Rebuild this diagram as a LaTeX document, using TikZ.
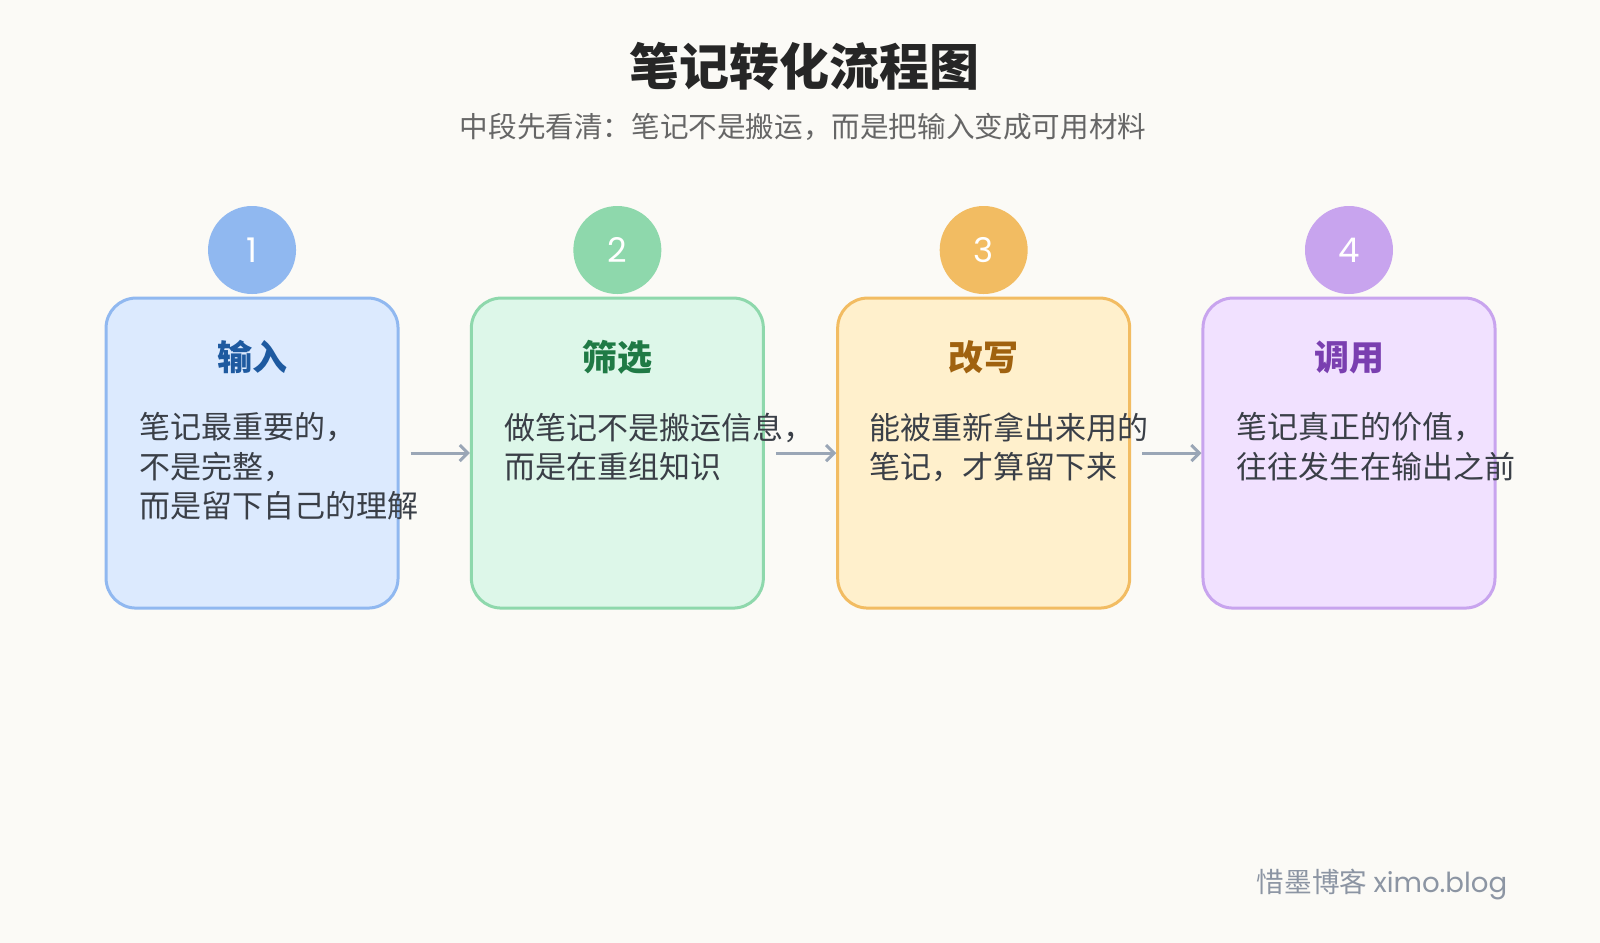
\documentclass[tikz,border=0pt]{standalone}
\usepackage{fontspec}
\setmainfont{Noto Sans CJK SC}
\newfontfamily\numfont{Poppins}
\usetikzlibrary{arrows.meta}
\definecolor{bg}{HTML}{FBFAF6}
\definecolor{arr}{HTML}{9AA6B6}
\definecolor{txt}{HTML}{3A3F47}
\definecolor{wmc}{HTML}{8C95A3}
\definecolor{fA}{HTML}{DCEAFE}\definecolor{bA}{HTML}{90B8F0}\definecolor{tA}{HTML}{1E5AA0}
\definecolor{fB}{HTML}{DDF7E9}\definecolor{bB}{HTML}{8ED8AC}\definecolor{tB}{HTML}{1F7A45}
\definecolor{fC}{HTML}{FFF0CC}\definecolor{bC}{HTML}{F2BC62}\definecolor{tC}{HTML}{A0620F}
\definecolor{fD}{HTML}{F1E1FF}\definecolor{bD}{HTML}{C8A4EE}\definecolor{tD}{HTML}{7A3FB0}
\tikzset{
 card/.style={draw=#1,line width=1.5pt,rounded corners=15pt,minimum width=146pt,minimum height=155pt,inner sep=0pt},
 badge/.style={circle,fill=#1,minimum size=44pt,inner sep=0pt,text=white,font=\numfont\fontsize{17}{17}\selectfont},
 ctitle/.style={font=\bfseries\fontsize{17.5}{17.5}\selectfont,text=#1},
 body/.style={anchor=north west,align=left,inner sep=0pt,text=txt,font=\fontsize{15.5}{19.6}\selectfont},
 conn/.style={draw=arr,line width=1.5pt,-{Straight Barb[length=4pt,width=8pt]}}
}
\begin{document}
\begin{tikzpicture}[x=0.5102pt,y=-0.5102pt]
\fill[bg] (0,0) rectangle (1568,924);
\useasboundingbox (0,0) rectangle (1568,924);
\node[font=\bfseries\fontsize{25}{25}\selectfont,text=black!85] (title) at (788,65) {笔记转化流程图};
\node[font=\fontsize{14.3}{14.3}\selectfont,text=black!60] (sub) at (787,124) {中段先看清：笔记不是搬运，而是把输入变成可用材料};
\foreach \i/\x/\c/\t in {1/247/A/输入,2/605/B/筛选,3/964/C/改写,4/1322/D/调用}{
  \node[card=b\c,fill=f\c] (box\i) at (\x,444) {};
  \node[badge=b\c] (n\i) at (\x,245) {\i};
  \node[ctitle=t\c] (t\i) at (\x,350) {\t};
}
\node[body] (d1) at (136,404) {笔记最重要的，\\不是完整，\\而是留下自己的理解};
\node[body] (d2) at (494,404) {做笔记不是搬运信息，\\而是在重组知识};
\node[body] (d3) at (852,404) {能被重新拿出来用的\\笔记，才算留下来};
\node[body] (d4) at (1211,404) {笔记真正的价值，\\往往发生在输出之前};
\draw[conn] ([xshift=5.5pt]box1.east) -- (box2.west);
\draw[conn] ([xshift=5.5pt]box2.east) -- (box3.west);
\draw[conn] ([xshift=5.5pt]box3.east) -- (box4.west);
\node[anchor=east,text=wmc,font=\fontsize{13.8}{13.8}\selectfont] (wm) at (1484,867) {惜墨博客 {\numfont ximo.blog}};
\end{tikzpicture}
\end{document}
